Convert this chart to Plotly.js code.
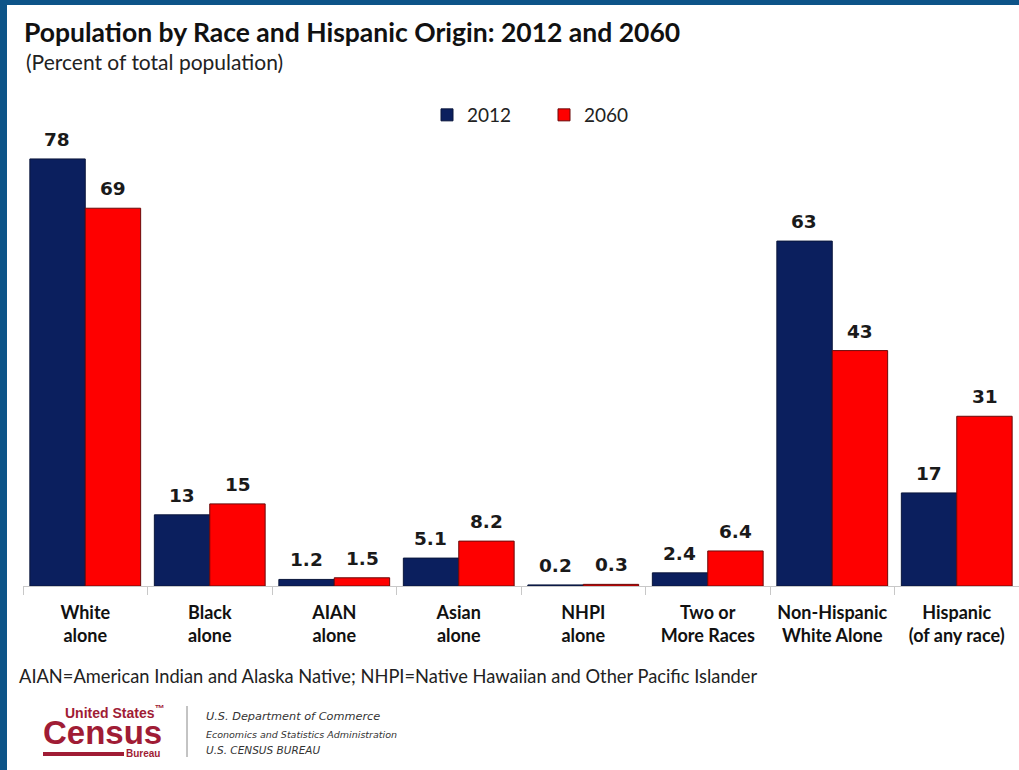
<!DOCTYPE html>
<html>
<head>
<meta charset="utf-8">
<script src="https://cdn.plot.ly/plotly-3.0.1.min.js"></script>
<style>
  html, body { margin: 0; padding: 0; background: #ffffff; }
  #chart { width: 1019px; height: 770px; }
</style>
</head>
<body>
<div id="chart"></div>
<script>
// ---- Data ----
const categories = [
  "White<br>alone",
  "Black<br>alone",
  "AIAN<br>alone",
  "Asian<br>alone",
  "NHPI<br>alone",
  "Two or<br>More Races",
  "Non-Hispanic<br>White Alone",
  "Hispanic<br>(of any race)"
];
const values2012 = [78, 13, 1.2, 5.1, 0.2, 2.4, 63, 17];
const values2060 = [69, 15, 1.5, 8.2, 0.3, 6.4, 43, 31];
const labels2012 = ["78", "13", "1.2", "5.1", "0.2", "2.4", "63", "17"];
const labels2060 = ["69", "15", "1.5", "8.2", "0.3", "6.4", "43", "31"];
const seriesNames = ["2012", "2060"];

// ---- Geometry helpers (pixel -> paper) ----
const W = 1019, H = 770;
const ML = 23, MR = 0, MT = 148, MB = 184;
const PW = W - ML - MR, PH = H - MT - MB;
const px = p => (p - ML) / PW;
const py = p => (H - MB - p) / PH;

const navy = "#0b1f5e";
const red = "#fe0000";
const maroon = "#a01c35";

const traces = [
  {
    type: "bar", name: seriesNames[0], x: categories, y: values2012,
    marker: { color: navy, line: { color: "#0a163c", width: 1 } },
    hoverinfo: "x+y"
  },
  {
    type: "bar", name: seriesNames[1], x: categories, y: values2060,
    marker: { color: red, line: { color: "#6a0a0a", width: 1 } },
    hoverinfo: "x+y"
  }
];

const labelFont = { family: "DejaVu Sans", size: 18.5, color: "#1a1a1a", weight: "bold" };
const annotations = [];
categories.forEach((c, i) => {
  annotations.push({ x: c, y: values2012[i], xref: "x", yref: "y", text: labels2012[i],
    showarrow: false, xshift: -28, yanchor: "bottom", yshift: 7, font: labelFont });
  annotations.push({ x: c, y: values2060[i], xref: "x", yref: "y", text: labels2060[i],
    showarrow: false, xshift: 28, yanchor: "bottom", yshift: 7, font: labelFont });
});

// subtitle
annotations.push({ xref: "paper", yref: "paper", x: px(24), y: py(62), xanchor: "left", yanchor: "middle",
  text: "(Percent of total population)", showarrow: false,
  font: { family: "Lato", size: 21, color: "#222" } });
// footnote
annotations.push({ xref: "paper", yref: "paper", x: px(17), y: py(676), xanchor: "left", yanchor: "middle",
  text: "AIAN=American Indian and Alaska Native; NHPI=Native Hawaiian and Other Pacific Islander", showarrow: false,
  font: { family: "Lato", size: 18.3, color: "#222" } });
// logo text
annotations.push({ xref: "paper", yref: "paper", x: px(166), y: py(712), xanchor: "right", yanchor: "middle",
  text: "United States<sup>™</sup>", showarrow: false,
  font: { family: "Liberation Sans", size: 14, color: maroon, weight: "bold" } });
annotations.push({ xref: "paper", yref: "paper", x: px(164), y: py(732), xanchor: "right", yanchor: "middle",
  text: "Census", showarrow: false,
  font: { family: "Liberation Sans", size: 33, color: maroon, weight: "bold" } });
annotations.push({ xref: "paper", yref: "paper", x: px(162), y: py(753), xanchor: "right", yanchor: "middle",
  text: "Bureau", showarrow: false,
  font: { family: "Liberation Sans", size: 10, color: maroon, weight: "bold" } });
annotations.push({ xref: "paper", yref: "paper", x: px(204), y: py(716), xanchor: "left", yanchor: "middle",
  text: "U.S. Department of Commerce", showarrow: false,
  font: { family: "DejaVu Sans", size: 11.3, color: "#333", style: "italic" } });
annotations.push({ xref: "paper", yref: "paper", x: px(204), y: py(734), xanchor: "left", yanchor: "middle",
  text: "Economics and Statistics Administration", showarrow: false,
  font: { family: "DejaVu Sans", size: 9.5, color: "#333", style: "italic" } });
annotations.push({ xref: "paper", yref: "paper", x: px(204), y: py(750), xanchor: "left", yanchor: "middle",
  text: "U.S. CENSUS BUREAU", showarrow: false,
  font: { family: "DejaVu Sans", size: 10.5, color: "#333", style: "italic" } });

const shapes = [
  // left frame border
  { type: "rect", xref: "paper", yref: "paper", x0: px(0), x1: px(7), y0: py(H + 5), y1: py(-5),
    fillcolor: "#0d5488", line: { width: 0 }, layer: "above" },
  // top frame border
  { type: "rect", xref: "paper", yref: "paper", x0: px(0), x1: px(W + 5), y0: py(5), y1: py(-5),
    fillcolor: "#0d5488", line: { width: 0 }, layer: "above" },
  // logo underline bar
  { type: "rect", xref: "paper", yref: "paper", x0: px(43), x1: px(124), y0: py(756), y1: py(752),
    fillcolor: maroon, line: { width: 0 } },
  // logo separator
  { type: "line", xref: "paper", yref: "paper", x0: px(187), x1: px(187), y0: py(706), y1: py(757),
    line: { color: "#888", width: 1 } }
];

const layout = {
  width: W, height: H,
  margin: { l: ML, r: MR, t: MT, b: MB, pad: 0 },
  paper_bgcolor: "#ffffff", plot_bgcolor: "#ffffff",
  title: {
    text: "<b>Population by Race and Hispanic Origin: 2012 and 2060</b>",
    xref: "container", yref: "container", x: 24 / W, xanchor: "left",
    y: 1 - 33 / H, yanchor: "middle",
    font: { family: "Lato", size: 26.5, color: "#111" }
  },
  barmode: "group", bargap: 0.11, bargroupgap: 0,
  showlegend: true,
  legend: {
    orientation: "h", x: px(427), y: py(115), xanchor: "left", yanchor: "middle",
    font: { family: "Lato", size: 19, color: "#222" },
    entrywidth: 72, entrywidthmode: "pixels", bgcolor: "rgba(0,0,0,0)"
  },
  xaxis: {
    type: "category", showgrid: false, zeroline: false,
    showline: true, linecolor: "#c8c8c8", linewidth: 1,
    ticks: "outside", tickson: "boundaries", ticklen: 8, tickcolor: "#c8c8c8",
    ticklabelstandoff: 10,
    tickfont: { family: "Lato", size: 18, color: "#111", weight: "bold" },
    fixedrange: true
  },
  yaxis: {
    range: [0, 80], visible: false, showgrid: false, zeroline: false, fixedrange: true
  },
  annotations: annotations,
  shapes: shapes
};

Plotly.newPlot("chart", traces, layout, { displayModeBar: false, staticPlot: true });
</script>
</body>
</html>
